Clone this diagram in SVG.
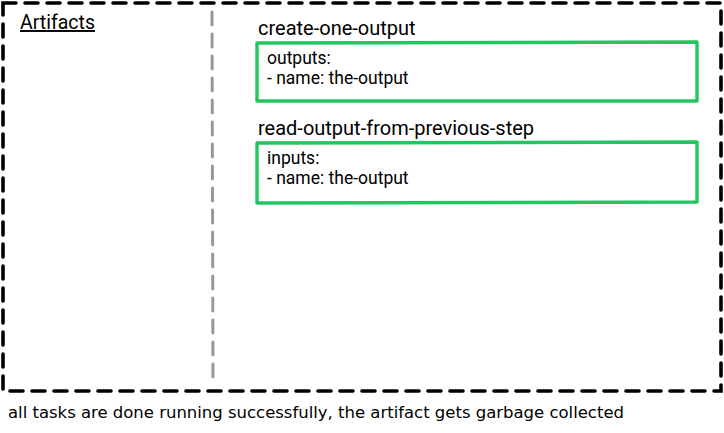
<svg xmlns="http://www.w3.org/2000/svg" width="724" height="433" viewBox="0 0 724 433">
<style>
.frame{fill:none;stroke:#000;stroke-width:3.6;stroke-dasharray:13 9;stroke-linecap:round}
.divider{fill:none;stroke:#999;stroke-width:3;stroke-dasharray:13 9;stroke-linecap:round}
.box{fill:none;stroke:#22c55e;stroke-width:3.4;stroke-linejoin:round}
.t{font-family:Roboto,"Liberation Sans",sans-serif;fill:#000}
.title{font-size:20px}
.body{font-size:17.5px}
.note{font-family:"DejaVu Sans Condensed","DejaVu Sans",sans-serif;font-size:16px;fill:#000}
</style>
<g id="frame">
<rect class="frame" x="3" y="3" width="718" height="388"/>
</g>
<g id="connectors">
<line class="divider" x1="212" y1="12" x2="213" y2="384"/>
</g>
<g id="artifacts-label">
<text class="t" x="20" y="29" font-size="19.5" text-decoration="underline">Artifacts</text>
</g>
<g id="create-one-output">
<text class="t title" x="258" y="35">create-one-output</text>
<path class="box" d="M257 43 L697 42 L697 101 L257 101 Z"/>
<text class="t body" x="267" y="64">outputs:</text>
<text class="t body" x="267" y="84">- name: the-output</text>
</g>
<g id="read-output-from-previous-step">
<text class="t title" x="258" y="135">read-output-from-previous-step</text>
<path class="box" d="M257 143 L697 142 L697 202 L257 203 Z"/>
<text class="t body" x="267" y="164">inputs:</text>
<text class="t body" x="267" y="184">- name: the-output</text>
</g>
<g id="footer">
<text class="note" x="8" y="418" textLength="616" lengthAdjust="spacingAndGlyphs">all tasks are done running successfully, the artifact gets garbage collected</text>
</g>
</svg>
